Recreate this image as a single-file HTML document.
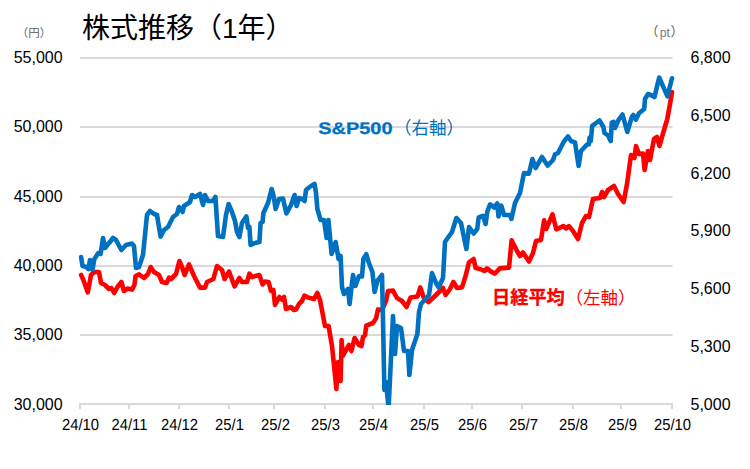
<!DOCTYPE html>
<html lang="ja"><head><meta charset="utf-8"><title>株式推移（1年）</title>
<style>
html,body{margin:0;padding:0;background:#fff;}
body{width:750px;height:469px;overflow:hidden;font-family:"Liberation Sans",sans-serif;}
svg{display:block;}
svg text{font-family:"Liberation Sans","Noto Sans CJK JP",sans-serif;}
</style></head><body>
<svg width="750" height="469" viewBox="0 0 750 469" role="img" aria-label="株式推移（1年） 日経平均（左軸・円）と S&amp;P500（右軸・pt） 24/10〜25/10">
<title>株式推移（1年）</title>
<desc>日経平均（左軸、円）と S&amp;P500（右軸、pt）の1年間の推移を示す折れ線グラフ。</desc>
<rect width="750" height="469" fill="#fff"/>
<rect x="80" y="57" width="592.5" height="2" fill="#D9D9D9"/>
<rect x="80" y="126" width="592.5" height="2" fill="#D9D9D9"/>
<rect x="80" y="196" width="592.5" height="2" fill="#D9D9D9"/>
<rect x="80" y="265" width="592.5" height="2" fill="#D9D9D9"/>
<rect x="80" y="334" width="592.5" height="2" fill="#D9D9D9"/>
<rect x="79" y="403" width="594" height="2" fill="#D9D9D9"/>
<rect x="79" y="403" width="2" height="6" fill="#D9D9D9"/>
<rect x="128" y="403" width="2" height="6" fill="#D9D9D9"/>
<rect x="178" y="403" width="2" height="6" fill="#D9D9D9"/>
<rect x="228" y="403" width="2" height="6" fill="#D9D9D9"/>
<rect x="273" y="403" width="2" height="6" fill="#D9D9D9"/>
<rect x="324" y="403" width="2" height="6" fill="#D9D9D9"/>
<rect x="372" y="403" width="2" height="6" fill="#D9D9D9"/>
<rect x="423" y="403" width="2" height="6" fill="#D9D9D9"/>
<rect x="471" y="403" width="2" height="6" fill="#D9D9D9"/>
<rect x="521" y="403" width="2" height="6" fill="#D9D9D9"/>
<rect x="572" y="403" width="2" height="6" fill="#D9D9D9"/>
<rect x="620" y="403" width="2" height="6" fill="#D9D9D9"/>
<rect x="671" y="403" width="2" height="6" fill="#D9D9D9"/>
<clipPath id="c"><rect x="70" y="40" width="620" height="365"/></clipPath>
<g clip-path="url(#c)" fill="none" stroke-width="4.6" stroke-linejoin="round" stroke-linecap="round">
<polyline stroke="#FF0000" points="81.1,275 83.4,280 87.8,292.4 91,275 94.3,272 99,272 101,283 105,285 109,289 111.4,288 114.2,293 117.4,287 121.4,282 124,291 127.4,288.6 132,289.6 134.4,285 135.6,276 139,274.4 144,278 148,274 150.6,267 154,272 159,275 162,282 166.6,283 169,277.6 171,279 176,274 179.4,261 182,267 184.6,275 189,264.4 194,276 200,287.6 205,287.6 207,282 213.4,279 217,266 222,270 224.6,279 229,271.6 234.6,286.4 239.4,278 242,282 247,282 249.4,273.6 252,277 259.4,275 262.6,284.4 265,281.6 268.6,282 271,291 273.4,290 275,305 279.4,297 281.8,299.5 284,297 286,309 291,307 294,310 296,309.6 299,304 302,301 304.4,295.6 308,297.6 314,299 317.4,293 320,300 325,326 328.6,326 332,346 336.4,389 338,362 340.6,381 341.6,340 342.6,356 349,345 351.4,351 354.6,338 359,345 361.5,346 363,337 365,335.3 366.3,325.6 373,323 376,318.5 378,309.4 382,310 386,301 388,291 393,290.6 397,298 402,301 406.6,307 410.5,297.5 417.5,296.5 420.3,287.4 423.5,297 428.5,302 434,297 439,292 443,288 445.6,295 450,289 453.4,282 457,288 462,287.4 465.6,276 469,262.4 473.6,259 475.6,268 480,269 484.4,271 487,268.4 491,271.6 495,273.6 499.6,268.4 509,267.6 511.6,240.4 517,251 520,256 523,252.4 529,261.6 533,253 536,241 541,240 544.1,220.3 546.2,229 552.5,214.4 556.3,229.3 563.3,226.1 566,228.4 569,226.1 573,231 578,239 582,223 586,216 589,217 593,199 600,198 602,192 604,197 608,190 614,186 618,194 623.6,202 627,184 631,155 634.4,158 636,146 639,154 643,153.6 644.6,170 648,151 650,160 654,139 657,137 659.4,146 664,130 667.3,119 670.2,103 672,92"/>
<polyline stroke="#0070C0" points="81.1,257 82.5,266 86.5,267 88.5,269 90,260 92.4,270 94.4,259 98.3,253 100.6,254 103,238 105,248 108,244 110,242 113,238 116,240 121.4,250 126,245 132,243.6 134,246 136,268 139,267 143,255 147,215 150,211 154,214 157,215 160.6,236.6 164,230 168,227 173,217 177,214 179,207 182.6,212 184,206 190,202 192,195 195,197 200,194 203,205 205,195 208,201 213,201 215.4,197 218,236 223,237 226,215 228.6,204 232,212 235,221 237,232 239.4,237 242,223 246.4,216.4 248,228 249.4,227 250.6,245 255,243 259.4,242 260.6,223 262.6,222 263.4,213 268,203 271.6,189 273.4,195 275.6,209 279,199 283,198.6 286.4,213.4 291,205 294.6,195 296.6,206 299,198 302,199 304.6,201 306,190 311,186 314.6,184 316,193 317.4,209 320.6,220 324,220 326.6,238 328.4,220 331.6,254 335.6,242 338.6,259 340.6,256 342,287 344,294 348,289 349.6,304 353,275 355.4,286 359,276 362,276.5 363.4,259 366.3,254.2 368.6,262 372.4,272 374.6,292 377.4,281 382,275 383,320 384.4,390 386,382 388.6,408 393,316 395,354 397,326 401,328 404,351 408,351 409.4,375 412,350 417.4,334 419,312 421,304 429,295 432,273 436,283 438.6,287.4 443,278 445,242 445.6,241 452,232 456.4,218 461,223 466.4,249 469,227 473.6,233.5 477.2,229 478.7,217.5 483,215.8 485.6,224 487.3,211.5 490.1,204.3 494.1,207.5 497.3,203.5 498.5,216.5 501.3,205.7 504,215 510,215 511.4,219 515,203 520,193 524,173 529,173.6 532.4,159 535.6,168 542,157 547.6,165.6 553,160 555,154.4 558,153 563.6,142 568,136.4 571,141 575,142.4 578.6,166 581,151 587,144.6 588.8,144.5 589.6,137.5 590.8,141 592.2,125.8 599.5,120.5 603.3,126.7 604.5,133 608,135.5 610.7,141 611.8,122.6 613.5,121.8 615,128 618.5,120 622.5,114.5 627.3,132 632,116.5 633.3,115 635.8,119.7 639,113.3 644.2,109 645,99 648,94 653,96 654.5,97 659.2,77.5 663.3,86.9 667.4,96.3 672,78.3"/>
</g>
<text x="62.6" y="63" text-anchor="end" font-size="16" fill="#000000">55,000</text>
<text x="62.6" y="132" text-anchor="end" font-size="16" fill="#000000">50,000</text>
<text x="62.6" y="202" text-anchor="end" font-size="16" fill="#000000">45,000</text>
<text x="62.6" y="271" text-anchor="end" font-size="16" fill="#000000">40,000</text>
<text x="62.6" y="340" text-anchor="end" font-size="16" fill="#000000">35,000</text>
<text x="62.6" y="410" text-anchor="end" font-size="16" fill="#000000">30,000</text>
<text x="690.5" y="63" font-size="16" fill="#000000">6,800</text>
<text x="690.5" y="121" font-size="16" fill="#000000">6,500</text>
<text x="690.5" y="179" font-size="16" fill="#000000">6,200</text>
<text x="690.5" y="236" font-size="16" fill="#000000">5,900</text>
<text x="690.5" y="294" font-size="16" fill="#000000">5,600</text>
<text x="690.5" y="352" font-size="16" fill="#000000">5,300</text>
<text x="690.5" y="410" font-size="16" fill="#000000">5,000</text>
<text text-rendering="geometricPrecision" transform="translate(80.5,429.8) scale(1,1.08)" text-anchor="middle" font-size="14.8" fill="#000000">24/10</text>
<text text-rendering="geometricPrecision" transform="translate(129.5,429.8) scale(1,1.08)" text-anchor="middle" font-size="14.8" fill="#000000">24/11</text>
<text text-rendering="geometricPrecision" transform="translate(179.5,429.8) scale(1,1.08)" text-anchor="middle" font-size="14.8" fill="#000000">24/12</text>
<text text-rendering="geometricPrecision" transform="translate(229.5,429.8) scale(1,1.08)" text-anchor="middle" font-size="14.8" fill="#000000">25/1</text>
<text text-rendering="geometricPrecision" transform="translate(275.5,429.8) scale(1,1.08)" text-anchor="middle" font-size="14.8" fill="#000000">25/2</text>
<text text-rendering="geometricPrecision" transform="translate(325.5,429.8) scale(1,1.08)" text-anchor="middle" font-size="14.8" fill="#000000">25/3</text>
<text text-rendering="geometricPrecision" transform="translate(373.5,429.8) scale(1,1.08)" text-anchor="middle" font-size="14.8" fill="#000000">25/4</text>
<text text-rendering="geometricPrecision" transform="translate(424.5,429.8) scale(1,1.08)" text-anchor="middle" font-size="14.8" fill="#000000">25/5</text>
<text text-rendering="geometricPrecision" transform="translate(472.5,429.8) scale(1,1.08)" text-anchor="middle" font-size="14.8" fill="#000000">25/6</text>
<text text-rendering="geometricPrecision" transform="translate(523.5,429.8) scale(1,1.08)" text-anchor="middle" font-size="14.8" fill="#000000">25/7</text>
<text text-rendering="geometricPrecision" transform="translate(573.5,429.8) scale(1,1.08)" text-anchor="middle" font-size="14.8" fill="#000000">25/8</text>
<text text-rendering="geometricPrecision" transform="translate(622.5,429.8) scale(1,1.08)" text-anchor="middle" font-size="14.8" fill="#000000">25/9</text>
<text text-rendering="geometricPrecision" transform="translate(672.5,429.8) scale(1,1.08)" text-anchor="middle" font-size="14.8" fill="#000000">25/10</text>
<text x="82" y="38" font-size="28" fill="#000000">株式推移（1年）</text>
<text x="34" y="36.7" text-anchor="middle" font-size="11.5" fill="#606060">（円）</text>
<text x="658.5" y="36" text-anchor="end" font-size="13" fill="#606060">（</text>
<text x="670.5" y="36" font-size="13" fill="#606060">）</text>
<text x="659.7" y="36.7" font-size="13.6" fill="#7a7a7a" textLength="10.3" lengthAdjust="spacingAndGlyphs">pt</text>
<text text-rendering="geometricPrecision" x="318.2" y="134.2" font-size="16.8" font-weight="bold" stroke="#0070C0" stroke-width="0.25" fill="#0070C0" textLength="74.4" lengthAdjust="spacingAndGlyphs">S&amp;P500</text>
<text x="429" y="134" text-anchor="middle" font-size="17.5" fill="#0070C0">（右軸）</text>
<text x="492" y="304" font-size="18.2" font-weight="bold" stroke="#FF0000" stroke-width="0.3" fill="#FF0000">日経平均</text>
<text x="600.6" y="303.5" text-anchor="middle" font-size="17.5" fill="#FF0000">（左軸）</text>
</svg>
</body></html>
